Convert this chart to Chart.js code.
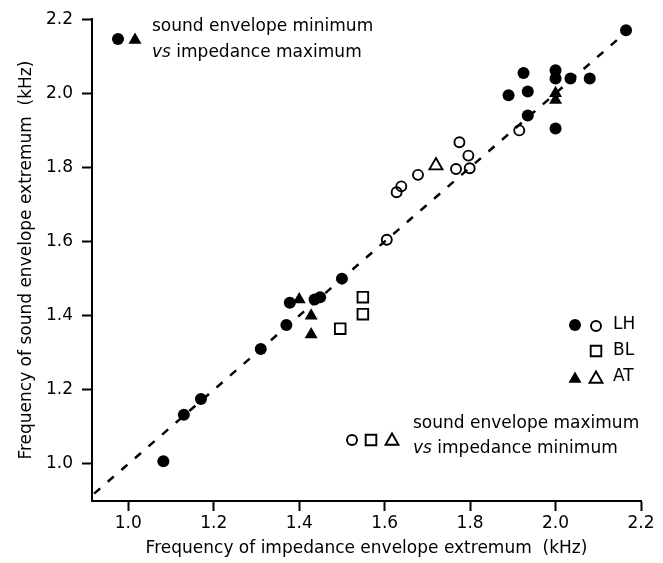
<!DOCTYPE html>
<html>
<head>
<meta charset="utf-8">
<script src="https://cdn.jsdelivr.net/npm/chart.js@4.4.1/dist/chart.umd.min.js"></script>
<style>
  html, body { margin: 0; padding: 0; background: #fff; }
  canvas { display: block; }
</style>
</head>
<body>
<canvas id="freqChart" width="663" height="563"></canvas>
<script>
// tick labels (kHz)
const xTicks = [1.0, 1.2, 1.4, 1.6, 1.8, 2.0, 2.2];
const yTicks = [1.0, 1.2, 1.4, 1.6, 1.8, 2.0, 2.2];

// LH - sound envelope minimum vs impedance maximum (filled circles)
const lhMinX = [1.082, 1.13, 1.17, 1.31, 1.37, 1.378, 1.436, 1.449, 1.50, 1.89, 1.925, 1.935, 1.935, 2.0, 2.0, 2.0, 2.035, 2.08, 2.165];
const lhMinY = [1.007, 1.133, 1.175, 1.31, 1.375, 1.435, 1.444, 1.45, 1.50, 1.995, 2.055, 2.005, 1.94, 2.062, 2.04, 1.905, 2.04, 2.04, 2.17];

// LH - sound envelope maximum vs impedance minimum (open circles)
const lhMaxX = [1.605, 1.628, 1.639, 1.678, 1.767, 1.775, 1.796, 1.799, 1.915];
const lhMaxY = [1.605, 1.733, 1.749, 1.78, 1.796, 1.868, 1.832, 1.798, 1.90];

// BL - maximum vs minimum (open squares)
const blMaxX = [1.496, 1.549, 1.549];
const blMaxY = [1.365, 1.45, 1.404];

// AT - minimum vs maximum (filled triangles)
const atMinX = [1.40, 1.428, 1.428, 2.0, 2.0];
const atMinY = [1.444, 1.40, 1.349, 2.0, 1.982];

// AT - maximum vs minimum (open triangle)
const atMaxX = [1.72];
const atMaxY = [1.805];

// identity line
const diagX = [0.92, 2.17];
const diagY = [0.92, 2.17];

const FONT = '"DejaVu Sans", sans-serif';
const pts = (xs, ys) => xs.map((x, i) => ({ x: x, y: ys[i] }));

Chart.defaults.font.family = FONT;
Chart.defaults.font.size = 17;
Chart.defaults.color = '#000';

// little symbol painter for the keys, same geometry as chart.js points
function symbol(ctx, style, filled, x, y, r) {
    ctx.save();
    ctx.beginPath();
    if (style === 'circle') {
        ctx.arc(x, y, r, 0, Math.PI * 2);
    } else if (style === 'rect') {
        const s = Math.SQRT1_2 * r;
        ctx.rect(x - s, y - s, 2 * s, 2 * s);
    } else {
        let a = 0;
        ctx.moveTo(x + Math.sin(a) * r, y - Math.cos(a) * r);
        a += Math.PI * 2 / 3;
        ctx.lineTo(x + Math.sin(a) * r, y - Math.cos(a) * r);
        a += Math.PI * 2 / 3;
        ctx.lineTo(x + Math.sin(a) * r, y - Math.cos(a) * r);
        ctx.closePath();
    }
    if (filled) {
        ctx.fillStyle = '#000';
        ctx.fill();
    } else {
        ctx.strokeStyle = '#000';
        ctx.lineWidth = 1.9;
        ctx.stroke();
    }
    ctx.restore();
}

function vsLine(ctx, x, y, rest) {
    ctx.font = 'italic 17px ' + FONT;
    ctx.fillText('vs', x, y);
    const w = ctx.measureText('vs').width;
    ctx.font = '17px ' + FONT;
    ctx.fillText(rest, x + w, y);
}

const keys = {
    id: 'keys',
    afterDraw(chart) {
        const ctx = chart.ctx;
        ctx.save();
        ctx.fillStyle = '#000';
        ctx.textBaseline = 'middle';
        ctx.textAlign = 'left';

        // top left block
        symbol(ctx, 'circle', true, 118, 39, 6);
        symbol(ctx, 'triangle', true, 135, 40, 7.5);
        ctx.font = '17px ' + FONT;
        ctx.fillText('sound envelope minimum', 152, 27);
        vsLine(ctx, 152, 53, ' impedance maximum');

        // bottom block
        symbol(ctx, 'circle', false, 352, 440, 5);
        symbol(ctx, 'rect', false, 371, 440, 7.5);
        symbol(ctx, 'triangle', false, 392, 441, 7.5);
        ctx.font = '17px ' + FONT;
        ctx.fillText('sound envelope maximum', 413, 424);
        vsLine(ctx, 413, 449, ' impedance minimum');

        // group key
        symbol(ctx, 'circle', true, 575, 325, 6);
        symbol(ctx, 'circle', false, 596, 326, 5);
        symbol(ctx, 'rect', false, 596, 351, 7.5);
        symbol(ctx, 'triangle', true, 575, 379, 7.5);
        symbol(ctx, 'triangle', false, 596, 379, 7.5);
        ctx.font = '17px ' + FONT;
        ctx.fillText('LH', 613, 325);
        ctx.fillText('BL', 613, 351);
        ctx.fillText('AT', 613, 377);
        ctx.restore();
    }
};

const axisCommon = {
    type: 'linear',
    grid: { drawOnChartArea: false, drawTicks: true, tickLength: 10, tickWidth: 2, tickColor: '#000' },
    border: { display: true, color: '#000', width: 2 },
};

new Chart(document.getElementById('freqChart'), {
    type: 'scatter',
    data: {
        datasets: [
            { label: 'LH min', data: pts(lhMinX, lhMinY), pointStyle: 'circle', pointRadius: 6, backgroundColor: '#000', borderWidth: 0 },
            { label: 'AT min', data: pts(atMinX, atMinY), pointStyle: 'triangle', pointRadius: 7.5, backgroundColor: '#000', borderWidth: 0 },
            { label: 'LH max', data: pts(lhMaxX, lhMaxY), pointStyle: 'circle', pointRadius: 5, backgroundColor: 'rgba(0,0,0,0)', borderColor: '#000', borderWidth: 1.9 },
            { label: 'BL max', data: pts(blMaxX, blMaxY), pointStyle: 'rect', pointRadius: 7.5, backgroundColor: 'rgba(0,0,0,0)', borderColor: '#000', borderWidth: 1.9 },
            { label: 'AT max', data: pts(atMaxX, atMaxY), pointStyle: 'triangle', pointRadius: 7.5, backgroundColor: 'rgba(0,0,0,0)', borderColor: '#000', borderWidth: 1.9 },
            { type: 'line', label: 'identity', data: pts(diagX, diagY), borderColor: '#000', borderWidth: 2.5, borderDash: [8, 10], pointRadius: 0, fill: false, tension: 0 }
        ]
    },
    options: {
        responsive: false,
        animation: false,
        devicePixelRatio: 1,
        layout: { padding: { top: 19, right: 22, left: 0, bottom: 0 } },
        plugins: { legend: { display: false }, tooltip: { enabled: false } },
        scales: {
            x: {
                ...axisCommon,
                min: 0.915,
                max: 2.2,
                afterBuildTicks: s => { s.ticks = xTicks.map(v => ({ value: v })); },
                afterFit: s => { s.height = 62; },
                ticks: { autoSkip: false, maxRotation: 0, padding: 2, callback: v => v.toFixed(1) },
                title: { display: true, text: 'Frequency of impedance envelope extremum  (kHz)', font: { size: 17 }, padding: { top: 0, bottom: 4 } }
            },
            y: {
                ...axisCommon,
                min: 0.9,
                max: 2.2,
                afterBuildTicks: s => { s.ticks = yTicks.map(v => ({ value: v })); },
                afterFit: s => { s.width = 92; },
                ticks: { autoSkip: false, padding: 9, callback: v => v.toFixed(1) },
                title: { display: true, text: 'Frequency of sound envelope extremum  (kHz)', font: { size: 17 }, padding: { top: 16, bottom: 0 } }
            }
        }
    },
    plugins: [keys]
});
</script>
</body>
</html>
